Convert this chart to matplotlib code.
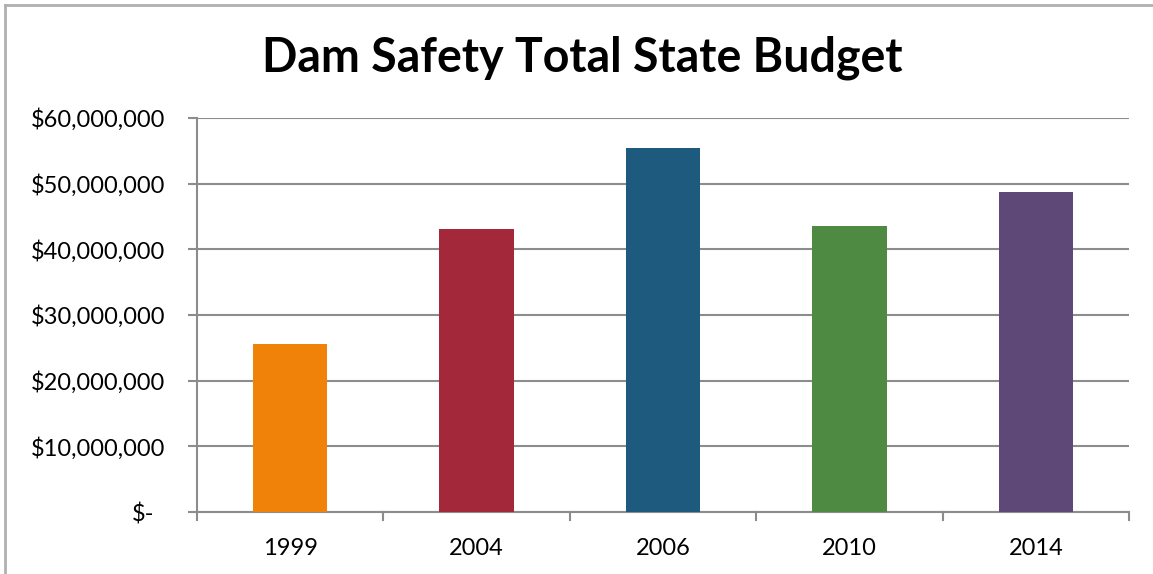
import matplotlib.pyplot as plt
from matplotlib.lines import Line2D

# values
years = ['1999', '2004', '2006', '2010', '2014']
budget = [25.6e6, 43.1e6, 55.4e6, 43.5e6, 48.7e6]
bar_colors = ['#F0820A', '#A2283A', '#1E5A7E', '#4E8A42', '#5E4877']
y_ticks = [0, 10e6, 20e6, 30e6, 40e6, 50e6, 60e6]

GRID = '#8c8c8c'


def money(v):
    if v == 0:
        return '$-'
    return '${:,.0f}'.format(v)


def main():
    plt.rcParams['font.family'] = ['Lato', 'DejaVu Sans']
    fig = plt.figure(figsize=(11.53, 5.74), dpi=100)
    ax = fig.add_axes([197 / 1153, 1 - 512 / 574, (1129 - 197) / 1153, (512 - 118) / 574])

    x = range(len(years))
    ax.bar(x, budget, width=0.4, color=bar_colors, zorder=3)

    ax.set_xlim(-0.5, len(years) - 0.5)
    ax.set_ylim(0, 60e6)
    ax.set_yticks(y_ticks)
    ax.set_yticklabels([money(v) for v in y_ticks], fontsize=17)
    ax.set_xticks(list(x))
    ax.set_xticklabels(years, fontsize=17)
    ax.tick_params(axis='x', length=0, pad=19)
    ax.tick_params(axis='y', length=6.5, width=1.5, color=GRID, pad=16.5)
    # "$-" sits a little left of the other labels
    ax.get_yticklabels()[0].set_x(-0.011)

    # category separator ticks on the x axis
    for b in [i - 0.5 for i in range(len(years) + 1)]:
        ax.plot([b, b], [0, -0.02], transform=ax.get_xaxis_transform(),
                color=GRID, lw=1.5, clip_on=False, zorder=4)

    ax.grid(axis='y', color=GRID, lw=1.5, zorder=0)
    for side in ['top', 'right']:
        ax.spines[side].set_visible(False)
    for side in ['left', 'bottom']:
        ax.spines[side].set_color(GRID)
        ax.spines[side].set_linewidth(1.5)

    fig.text(582 / 1153, 1 - 58 / 574, 'Dam Safety Total State Budget',
             ha='center', va='center', fontsize=33.5, fontweight='bold')

    # chart frame, clipped at right and bottom as in the original
    fig.add_artist(Line2D([5 / 1153, 5 / 1153], [0, 1 - 5 / 574],
                          transform=fig.transFigure, color='#b0b0b0', lw=2))
    fig.add_artist(Line2D([5 / 1153, 1], [1 - 5 / 574, 1 - 5 / 574],
                          transform=fig.transFigure, color='#b0b0b0', lw=2))

    fig.savefig('out.png', dpi=100)


if __name__ == '__main__':
    main()
